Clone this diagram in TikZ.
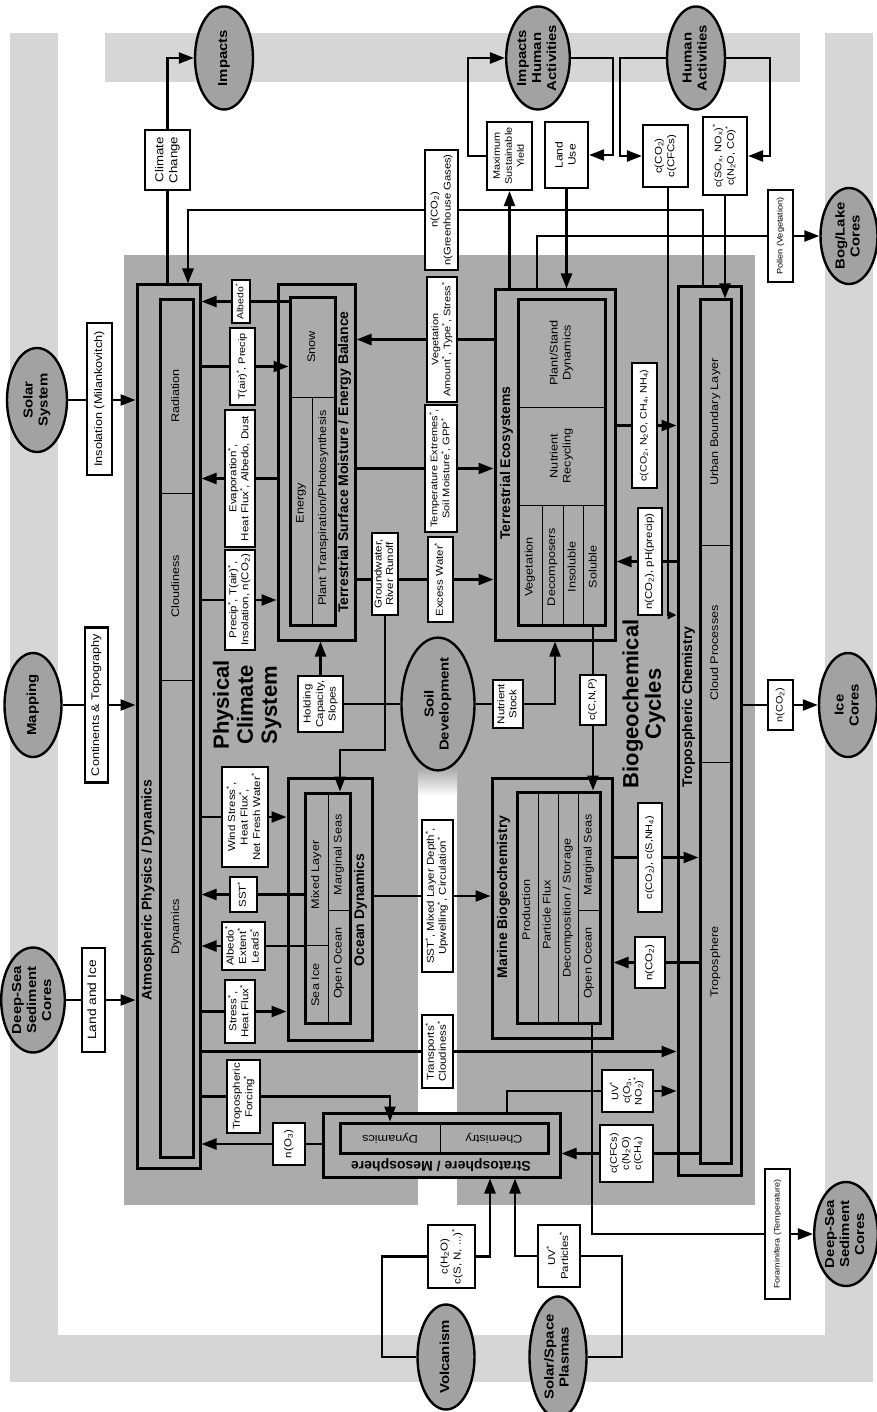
\documentclass[tikz,border=0pt]{standalone}
\usepackage{fontspec}
\setmainfont{Liberation Sans}
\newfontfamily\lblfont[FakeStretch=1.15]{Liberation Sans}
\usetikzlibrary{arrows.meta,shapes.geometric,calc}
\pgfdeclarelayer{bg}
\pgfdeclarelayer{boxes}
\pgfdeclarelayer{edges}
\pgfsetlayers{bg,boxes,edges,main}
\definecolor{band}{HTML}{D6D6D6}
\definecolor{region}{HTML}{ABABAB}
\definecolor{ellfill}{HTML}{A2A2A2}
\newcommand{\st}{\textsuperscript{*}}
\newcommand{\vt}[3]{\rotatebox{90}{\fontsize{#1}{#2}\selectfont\begin{tabular}{@{}c@{}}#3\end{tabular}}}
\newcommand{\ut}[3]{\rotatebox{180}{\fontsize{#1}{#2}\selectfont\begin{tabular}{@{}c@{}}#3\end{tabular}}}
\tikzset{
  bigbox/.style={draw, line width=3pt, fill=region, inner sep=0pt},
  lbl/.style={draw, line width=2.2pt, fill=white, inner sep=0pt, font=\lblfont},
  oval/.style={ellipse, draw, line width=2.4pt, fill=ellfill, inner sep=0pt, font=\lblfont\bfseries},
  con/.style={line width=2.4pt},
  arr/.style={con, -{Triangle[length=15pt,width=11pt]}},
  div/.style={line width=1pt},
  ttl/.style={inner sep=0pt, font=\bfseries},
  cmp/.style={inner sep=0pt, font=\lblfont},
}
\begin{document}
\begin{tikzpicture}[x=1pt,y=-1pt]
\useasboundingbox (0,0) rectangle (877,1412);
% ---------- background regions ----------
\begin{pgfonlayer}{bg}
\fill[white] (0,0) rectangle (877,1412);
\fill[band] (10,33) rectangle (58,1382);
\fill[band] (10,1335) rectangle (873,1382);
\fill[band] (825,33) rectangle (873,1382);
\fill[band] (105,33) rectangle (800,82);
\fill[region] (124,255) rectangle (755,1205);
\shade[top color=region, bottom color=white] (418,768) rectangle (457,796);
\fill[white] (418,795) rectangle (457,1205);
\end{pgfonlayer}
% ---------- main boxes ----------
\begin{pgfonlayer}{boxes}
% Atmosphere
\node[bigbox, minimum width=63pt, minimum height=883pt] (atm) at (168.5,726.5) {};
\node[bigbox, minimum width=33pt, minimum height=857pt] (atmin) at (176.5,728.5) {};
\draw[div] (160,493) -- (193,493);
\draw[div] (160,680) -- (193,680);
\node[cmp] at (176.5,396) {\vt{11}{13}{Radiation}};
\node[cmp] at (176.5,586) {\vt{11}{13}{Cloudiness}};
\node[cmp] at (176.5,927) {\vt{11}{13}{Dynamics}};
\node[ttl] at (148.5,890) {\vt{14}{16}{Atmospheric Physics / Dynamics}};
% Terrestrial surface
\node[bigbox, minimum width=77pt, minimum height=355pt] (terr) at (316.5,462.5) {};
\node[bigbox, minimum width=45pt, minimum height=327pt] (terrin) at (312.5,461.5) {};
\draw[div] (290,397) -- (335,397);
\draw[div] (312,397) -- (312,625);
\node[cmp] at (312.5,347) {\vt{11}{13}{Snow}};
\node[cmp] at (301,503) {\vt{11}{13}{Energy}};
\node[cmp] at (323.5,508) {\vt{11}{13}{Plant Transpiration/Photosynthesis}};
\node[ttl] at (345,462) {\vt{14}{16}{Terrestrial Surface Moisture / Energy Balance}};
% Ocean
\node[bigbox, minimum width=84pt, minimum height=262pt] (ocean) at (330,909) {};
\node[bigbox, minimum width=45pt, minimum height=230pt] (oceanin) at (327.5,908) {};
\draw[div] (328,793) -- (328,1023);
\draw[div] (305,945) -- (328,945);
\draw[div] (328,910) -- (350,910);
\node[cmp] at (316.5,875) {\vt{11}{13}{Mixed Layer}};
\node[cmp] at (316.5,985) {\vt{11}{13}{Sea Ice}};
\node[cmp] at (339,855) {\vt{11}{13}{Marginal Seas}};
\node[cmp] at (339,963) {\vt{11}{13}{Open Ocean}};
\node[ttl] at (361,910) {\vt{14}{16}{Ocean Dynamics}};
% Terrestrial ecosystems
\node[bigbox, minimum width=120pt, minimum height=350pt] (teco) at (555,465) {};
\node[bigbox, minimum width=87pt, minimum height=325pt] (tecoin) at (561.5,462.5) {};
\draw[div] (518,407) -- (605,407);
\draw[div] (518,505) -- (605,505);
\draw[div] (542,505) -- (542,625);
\draw[div] (563,505) -- (563,625);
\draw[div] (583,505) -- (583,625);
\node[cmp] at (561.5,353) {\vt{11}{13}{Plant/Stand\\Dynamics}};
\node[cmp] at (561.5,456) {\vt{11}{13}{Nutrient\\Recycling}};
\node[cmp] at (530,567) {\vt{11}{13}{Vegetation}};
\node[cmp] at (552.5,567) {\vt{11}{13}{Decomposers}};
\node[cmp] at (573,567) {\vt{11}{13}{Insoluble}};
\node[cmp] at (594,567) {\vt{11}{13}{Soluble}};
\node[ttl] at (507,463) {\vt{14}{16}{Terrestrial Ecosystems}};
% Marine
\node[bigbox, minimum width=120pt, minimum height=260pt] (marine) at (552,908) {};
\node[bigbox, minimum width=83pt, minimum height=231pt] (marinein) at (558.5,907.5) {};
\draw[div] (538,792) -- (538,1023);
\draw[div] (558,792) -- (558,1023);
\draw[div] (578,792) -- (578,1023);
\draw[div] (578,910) -- (600,910);
\node[cmp] at (527.5,910) {\vt{11}{13}{Production}};
\node[cmp] at (548,915) {\vt{11}{13}{Particle Flux}};
\node[cmp] at (568,908) {\vt{11}{13}{Decomposition / Storage}};
\node[cmp] at (589,855) {\vt{11}{13}{Marginal Seas}};
\node[cmp] at (589,963) {\vt{11}{13}{Open Ocean}};
\node[ttl] at (504,897) {\vt{14}{16}{Marine Biogeochemistry}};
% Troposphere
\node[bigbox, minimum width=63pt, minimum height=888pt] (tropo) at (709.5,731) {};
\node[bigbox, minimum width=31pt, minimum height=863pt] (tropoin) at (715.5,731.5) {};
\draw[div] (700,545) -- (731,545);
\draw[div] (700,762) -- (731,762);
\node[cmp] at (715.5,422) {\vt{11}{13}{Urban Boundary Layer}};
\node[cmp] at (715.5,653) {\vt{11}{13}{Cloud Processes}};
\node[cmp] at (715.5,962) {\vt{11}{13}{Troposphere}};
\node[ttl] at (689,707) {\vt{14}{16}{Tropospheric Chemistry}};
% Stratosphere
\node[bigbox, minimum width=237pt, minimum height=64pt] (strat) at (441.5,1145) {};
\node[bigbox, minimum width=208pt, minimum height=30pt] (stratin) at (444,1138) {};
\draw[div] (440,1123) -- (440,1153);
\node[cmp] at (390,1138) {\ut{11}{13}{Dynamics}};
\node[cmp] at (494,1138) {\ut{11}{13}{Chemistry}};
\node[ttl] at (441,1165) {\ut{14}{16}{Stratosphere / Mesosphere}};
% big titles
\node[ttl] at (248,705) {\vt{22}{24}{Physical\\Climate\\System}};
\node[ttl] at (645,704) {\vt{22}{22}{Biogeochemical\\Cycles}};
\end{pgfonlayer}
% ---------- ellipses ----------
\node[oval, minimum width=58pt, minimum height=103pt] (impacts) at (224,58) {\vt{13}{15}{Impacts}};
\node[oval, minimum width=60pt, minimum height=103pt] (iha) at (538,58) {\vt{13}{15}{Impacts\\Human\\Activities}};
\node[oval, minimum width=58pt, minimum height=103pt] (ha) at (696,58) {\vt{13}{15}{Human\\Activities}};
\node[oval, minimum width=57pt, minimum height=96pt] (bog) at (849,236) {\vt{13}{15}{Bog/Lake\\Cores}};
\node[oval, minimum width=58pt, minimum height=104pt] (ice) at (848,705) {\vt{13}{15}{Ice\\Cores}};
\node[oval, minimum width=62pt, minimum height=104pt] (dss2) at (846,1234) {\vt{13}{15}{Deep-Sea\\Sediment\\Cores}};
\node[oval, minimum width=60pt, minimum height=104pt] (solar) at (37,400) {\vt{13}{15}{Solar\\System}};
\node[oval, minimum width=57pt, minimum height=104pt] (mapping) at (33,705) {\vt{13}{15}{Mapping}};
\node[oval, minimum width=60pt, minimum height=105pt] (dss1) at (33,1000) {\vt{13}{15}{Deep-Sea\\Sediment\\Cores}};
\node[oval, minimum width=57pt, minimum height=105pt] (volc) at (446,1357) {\vt{13}{15}{Volcanism}};
\node[oval, minimum width=57pt, minimum height=105pt] (ssp) at (558,1357) {\vt{13}{15}{Solar/Space\\Plasmas}};
\node[oval, minimum width=73pt, minimum height=131pt] (soil) at (438,704) {\vt{13}{15}{Soil\\Development}};
% ---------- label boxes ----------
\node[lbl, minimum width=45pt, minimum height=60pt] (cc) at (167.5,160) {\vt{11.5}{14}{Climate\\Change}};
\node[lbl, minimum width=25pt, minimum height=152pt] (ins) at (99.5,399) {\vt{11}{13}{Insolation (Milankovitch)}};
\node[lbl, minimum width=23pt, minimum height=155pt] (cont) at (96.5,705) {\vt{11}{13}{Continents \& Topography}};
\node[lbl, minimum width=23pt, minimum height=104pt] (lai) at (93.5,1000) {\vt{12}{13}{Land and Ice}};
\node[lbl, minimum width=18pt, minimum height=43pt] (alb) at (241,301.5) {\vt{9}{10}{Albedo\st}};
\node[lbl, minimum width=25pt, minimum height=77pt] (tp) at (242.5,366.5) {\vt{9.5}{11}{T(air)\st, Precip}};
\node[lbl, minimum width=30pt, minimum height=137pt] (ev) at (240,478.5) {\vt{10}{12}{Evaporation\st,\\Heat Flux\st, Albedo, Dust}};
\node[lbl, minimum width=30pt, minimum height=100pt] (pi) at (240,600) {\vt{10}{12}{Precip\st, T(air)\st,\\Insolation, n(CO\textsubscript{2})}};
\node[lbl, minimum width=46pt, minimum height=100pt] (ws) at (245,817) {\vt{10}{12.5}{Wind Stress\st,\\Heat Flux\st,\\Net Fresh Water\st}};
\node[lbl, minimum width=27pt, minimum height=35pt] (sst) at (243.5,894.5) {\vt{10}{12}{SST\st}};
\node[lbl, minimum width=43pt, minimum height=48pt] (ael) at (243.5,946) {\vt{10}{12.5}{Albedo\st\\Extent\st\\Leads\st}};
\node[lbl, minimum width=30pt, minimum height=63pt] (shf) at (240,1011.5) {\vt{10}{12}{Stress\st,\\Heat Flux\st}};
\node[lbl, minimum width=33pt, minimum height=73pt] (tf) at (243.5,1096.5) {\vt{10}{12.5}{Tropospheric\\Forcing\st}};
\node[lbl, minimum width=32pt, minimum height=42pt] (no3) at (289,1144) {\vt{10}{12}{n(O\textsubscript{3})}};
\node[lbl, minimum width=45pt, minimum height=56pt] (hc) at (320.5,704) {\vt{10}{12.5}{Holding\\Capacity,\\Slopes}};
\node[lbl, minimum width=26pt, minimum height=82pt] (gw) at (385,574) {\vt{10}{11.5}{Groundwater,\\River Runoff}};
\node[lbl, minimum width=25pt, minimum height=85pt] (ex) at (440.5,579.5) {\vt{10}{12}{Excess Water\st}};
\node[lbl, minimum width=32pt, minimum height=127pt] (te) at (441,468.5) {\vt{9.6}{12}{Temperature Extremes\st,\\Soil Moisture\st, GPP\st}};
\node[lbl, minimum width=30pt, minimum height=125pt] (va) at (442,339.5) {\vt{9.5}{12}{Vegetation\\Amount\st, Type\st, Stress\st}};
\node[lbl, minimum width=33pt, minimum height=120pt] (ng) at (441.5,210) {\vt{9.8}{13}{n(CO\textsubscript{2})\\n(Greenhouse Gases)}};
\node[lbl, minimum width=31pt, minimum height=152pt] (sml) at (437.5,896) {\vt{10}{12}{SST\st, Mixed Layer Depth\st,\\Upwelling\st, Circulation\st}};
\node[lbl, minimum width=31pt, minimum height=73pt] (tc) at (437.5,1051.5) {\vt{10}{12}{Transports\st\\Cloudiness\st}};
\node[lbl, minimum width=30pt, minimum height=48pt] (ns) at (508,704) {\vt{10}{12}{Nutrient\\Stock}};
\node[lbl, minimum width=45pt, minimum height=68pt] (msy) at (509.5,156) {\vt{9.5}{12}{Maximum\\Sustainable\\Yield}};
\node[lbl, minimum width=43pt, minimum height=66pt] (lu) at (566.5,155) {\vt{10.5}{13}{Land\\Use}};
\node[lbl, minimum width=45pt, minimum height=62pt] (cc2) at (665.5,156) {\vt{10}{12.5}{c(CO\textsubscript{2})\\c(CFCs)}};
\node[lbl, minimum width=44pt, minimum height=78pt] (sox) at (725,156) {\vt{9.5}{12.5}{c(SO\textsubscript{x}, NO\textsubscript{x})\st\\c(N\textsubscript{2}O, CO)\st}};
\node[lbl, minimum width=25pt, minimum height=92pt] (pollen) at (780.5,236) {\vt{8}{10}{Pollen (Vegetation)}};
\node[lbl, minimum width=25pt, minimum height=125pt] (cn) at (644.5,425.5) {\vt{9.3}{11}{c(CO\textsubscript{2}, N\textsubscript{2}O, CH\textsubscript{4}, NH\textsubscript{4})}};
\node[lbl, minimum width=24pt, minimum height=107pt] (nph) at (650,561.5) {\vt{10}{11}{n(CO\textsubscript{2}), pH(precip)}};
\node[lbl, minimum width=26pt, minimum height=50pt] (cnp) at (593,700) {\vt{9.5}{11}{c(C,N,P)}};
\node[lbl, minimum width=24pt, minimum height=109pt] (csn) at (650,857.5) {\vt{9.5}{11}{c(CO\textsubscript{2}), c(S,NH\textsubscript{4})}};
\node[lbl, minimum width=30pt, minimum height=51pt] (nc) at (650,962.5) {\vt{10}{12}{n(CO\textsubscript{2})}};
\node[lbl, minimum width=51pt, minimum height=42pt] (uvo) at (627.5,1091) {\vt{9.5}{11.5}{UV\st\\c(O\textsubscript{3},\\NO\textsubscript{2})\st}};
\node[lbl, minimum width=53pt, minimum height=57pt] (cfc) at (626.5,1153.5) {\vt{9.5}{12}{c(CFCs)\\c(N\textsubscript{2}O)\\c(CH\textsubscript{4})}};
\node[lbl, minimum width=25pt, minimum height=50pt] (nci) at (780.5,705) {\vt{9.5}{11}{n(CO\textsubscript{2})}};
\node[lbl, minimum width=25pt, minimum height=130pt] (fora) at (777.5,1234) {\vt{7.8}{10}{Foraminifera (Temperature)}};
\node[lbl, minimum width=47pt, minimum height=63pt] (ch) at (451.5,1256.5) {\vt{10}{13}{c(H\textsubscript{2}O)\\c(S, N, ...)\st}};
\node[lbl, minimum width=42pt, minimum height=62pt] (uvp) at (559,1256) {\vt{10}{13}{UV\st\\Particles\st}};
\coordinate (gwbend) at (340,750);
% ---------- connectors ----------
\begin{pgfonlayer}{edges}
\draw[arr] (atm.north -| cc) |- (impacts.west);
\draw[arr] (703,0 |- tropo.north) |- (ng) -| (188,0 |- atm.north);
\draw[arr] (solar.east) -- (solar -| atm.west);
\draw[arr] (mapping.east) -- (mapping -| atm.west);
\draw[arr] (dss1.east) -- (dss1 -| atm.west);
\draw[arr] (terrin.west |- alb) -- (atm.east |- alb);
\draw[arr] (atm.east |- tp) -- (terrin.west |- tp);
\draw[arr] (terr.west |- ev) -- (atm.east |- ev);
\draw[arr] (atm.east |- pi) -- (terr.west |- pi);
\draw[arr] (atm.east |- ws) -- (ocean.west |- ws);
\draw[arr] (oceanin.west |- sst) -- (atm.east |- sst);
\draw[arr] (oceanin.west |- ael) -- (atm.east |- ael);
\draw[arr] (atm.east |- shf) -- (ocean.west |- shf);
\draw[arr] (atm.east |- tf) -| (390,0 |- stratin.north);
\draw[arr] (strat.west |- no3) -- (atm.east |- no3);
\draw[arr] (atm.east |- tc) -- (tropo.west |- tc);
\draw[arr] (volc.west) -| (382,0 |- ch) -- (ch) -| (490,0 |- strat.south);
\draw[arr] (ssp.east) -| (622,0 |- uvp) -- (uvp) -| (515,0 |- strat.south);
\draw[arr] (507,0 |- strat.north) |- (uvo) -- (tropo.west |- uvo);
\draw[arr] (tropoin.west |- cfc) -- (strat.east |- cfc);
\draw[arr] (592,0 |- marinein.south) |- (fora) -- (dss2.west);
\draw[arr] (gw.south) |- (gwbend) -- (gwbend |- oceanin.north);
\draw[arr] (terr.east |- ex) -- (teco.west |- ex);
\draw[arr] (terr.east |- te) -- (teco.west |- te);
\draw[arr] (teco.west |- va) -- (terr.east |- va);
\draw[con] (soil) -- (hc);
\draw[arr] (hc.north) -- (hc.north |- terr.south);
\draw[con] (soil) -- (ns);
\draw[arr] (ns) -| (555,0 |- teco.south);
\draw[arr] (cnp |- tecoin.south) -- (cnp |- marinein.north);
\draw[arr] (ocean.east |- sml) -- (marine.west |- sml);
\draw[arr] (teco.north -| msy) -- (msy.south);
\draw[arr] (msy.west) -| (468,0 |- iha) -- (iha.west);
\draw[arr] (lu.south) -- (lu.south |- teco.north);
\draw[arr] (iha.east) -| (613,0 |- lu) -- (lu.east);
\draw[arr] (ha.west) -| (620,0 |- cc2) -- (cc2.west);
\draw[arr] (ha.east) -| (770,0 |- sox) -- (sox.east);
\draw[con,-{Triangle[length=9pt,width=8pt]}] (668,0 |- cc2.south) |- (tropo.west |- 0,615);
\draw[arr] (sox.south) -- (sox.south |- tropoin.north);
\draw[arr] (537,0 |- teco.north) |- (pollen) -- (bog.west);
\draw[arr] (teco.east |- cn) -- (tropo.west |- cn);
\draw[arr] (tropo.west |- nph) -- (teco.east |- nph);
\draw[arr] (marine.east |- csn) -- (tropoin.west |- csn);
\draw[arr] (tropoin.west |- nc) -- (marine.east |- nc);
\draw[arr] (tropo.east |- ice) -- (ice.west);
\end{pgfonlayer}
\end{tikzpicture}
\end{document}
